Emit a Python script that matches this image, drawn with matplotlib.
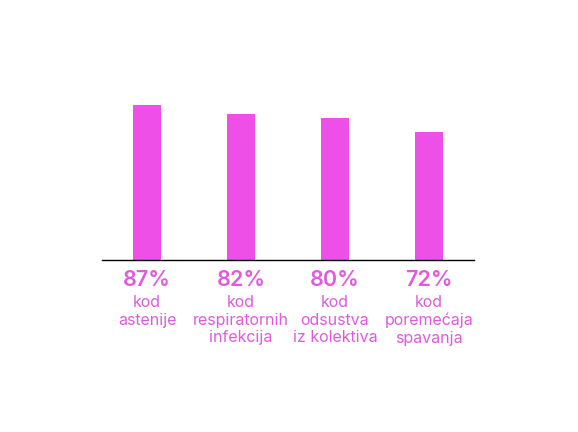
import matplotlib
matplotlib.use("Agg")
import matplotlib.pyplot as plt

# podaci
vrijednosti = [87, 82, 80, 72]
postotci = ["87%", "82%", "80%", "72%"]
opisi = ["kod\nastenije", "kod\nrespiratornih\ninfekcija",
         "kod\nodsustva\niz kolektiva", "kod\nporemećaja\nspavanja"]

boja_stupca = "#EE4FE6"
boja_teksta = "#E05ADD"

plt.rcParams['font.family'] = ['Inter', 'DejaVu Sans']

fig = plt.figure(figsize=(5.78, 4.32), dpi=100)
ax = fig.add_axes([0.1765, 0.398, 0.6435, 0.412])

x = list(range(len(vrijednosti)))
ax.bar(x, vrijednosti, width=0.30, color=boja_stupca)

ax.set_xlim(-0.48, 3.48)
ax.set_ylim(0, 100)

for s in ['top', 'right', 'left']:
    ax.spines[s].set_visible(False)
ax.spines['bottom'].set_color('black')
ax.spines['bottom'].set_linewidth(1.0)
ax.set_xticks([])
ax.set_yticks([])

tr = ax.get_xaxis_transform()
for i in x:
    ax.text(i, -0.112, postotci[i], transform=tr, ha='center', va='center',
            fontsize=15.5, fontweight='semibold', color=boja_teksta)
    ax.text(i, -0.197, opisi[i], transform=tr, ha='center', va='top',
            fontsize=11.5, color=boja_teksta, linespacing=1.2)

fig.savefig("out.png", dpi=100, facecolor='white')
